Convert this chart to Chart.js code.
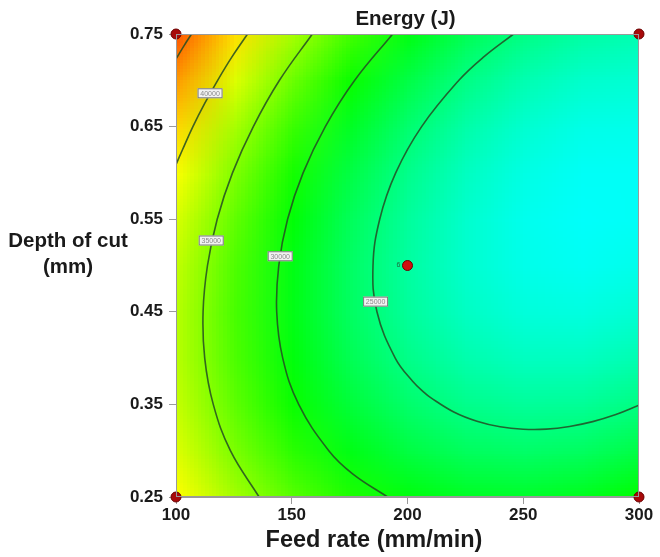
<!DOCTYPE html>
<html>
<head>
<meta charset="utf-8">
<script src="https://cdn.jsdelivr.net/npm/chart.js@4.4.1/dist/chart.umd.min.js"></script>
<style>
  html, body { margin: 0; padding: 0; background: #fff; }
  #wrap { width: 660px; height: 557px; }
</style>
</head>
<body>
<div id="wrap"><canvas id="energyChart"></canvas></div>
<script>
// grid of the response surface
const feedRate = [100, 125, 150, 175, 200, 225, 250, 275, 300];
const depthOfCut = [0.25, 0.30, 0.35, 0.40, 0.45, 0.50, 0.55, 0.60, 0.65, 0.70, 0.75];
// one row per depth, one column per feed rate
const energy = [
  [40050, 36390, 33410, 31130, 29530, 28630, 28410, 28890, 30050],
  [38630, 34790, 31650, 29190, 27430, 26360, 25970, 26280, 27280],
  [37670, 33660, 30350, 27720, 25790, 24550, 24000, 24130, 24960],
  [37160, 32990, 29510, 26710, 24610, 23200, 22480, 22450, 23110],
  [37120, 32780, 29120, 26160, 23890, 22310, 21420, 21220, 21710],
  [37530, 33020, 29200, 26070, 23630, 21880, 20820, 20450, 20770],
  [38410, 33730, 29740, 26440, 23830, 21910, 20680, 20150, 20300],
  [39750, 34900, 30740, 27270, 24490, 22400, 21010, 20300, 20280],
  [41540, 36520, 32200, 28560, 25610, 23350, 21790, 20910, 20730],
  [43800, 38610, 34110, 30310, 27190, 24760, 23030, 21980, 21630],
  [46510, 41160, 36490, 32520, 29230, 26640, 24730, 23520, 22990]
];

// contour lines (feed rate, depth)
const c45000x = [106.7, 103.5, 100];
const c45000y = [0.75, 0.7375, 0.723];
const c40000x = [130.9, 124.1, 118.0, 112.4, 107.3, 102.8, 100];
const c40000y = [0.75, 0.725, 0.70, 0.675, 0.65, 0.625, 0.609];
const c35000x = [158.9, 144.7, 133.4, 124.4, 117.8, 113.6, 111.7, 112.4, 116.1, 123.5, 135.9];
const c35000y = [0.75, 0.70, 0.65, 0.60, 0.55, 0.50, 0.45, 0.40, 0.35, 0.30, 0.25];
const c30000x = [193.6, 177.2, 164.5, 154.9, 148.2, 144.4, 143.5, 146.1, 153.0, 166.0, 176.3, 191.4];
const c30000y = [0.75, 0.70, 0.65, 0.60, 0.55, 0.50, 0.45, 0.40, 0.35, 0.30, 0.275, 0.25];
const c25000x = [245.8, 232.8, 222.2, 206.1, 194.9, 188.0, 185.1, 186.8, 194.7, 202.2, 207.4, 210, 220, 230, 240, 250, 260, 270, 280, 290, 300];
const c25000y = [0.75, 0.725, 0.70, 0.65, 0.60, 0.55, 0.50, 0.45, 0.40, 0.375, 0.3625, 0.3573, 0.3418, 0.3318, 0.3258, 0.3232, 0.3233, 0.3262, 0.3314, 0.3390, 0.3491];

const labelText = ['40000', '35000', '30000', '25000'];
const labelFeed = [114.5, 115.0, 144.8, 186.0];
const labelDepth = [0.686, 0.527, 0.510, 0.461];

// design points
const designFeed = [100, 100, 300, 300, 200];
const designDepth = [0.25, 0.75, 0.25, 0.75, 0.50];
const centerRuns = '6';

const xTicks = [100, 150, 200, 250, 300];
const yTicks = [0.25, 0.35, 0.45, 0.55, 0.65, 0.75];

function pts(xs, ys) {
  return xs.map((v, i) => ({ x: v, y: ys[i] }));
}

// hue goes cyan -> green -> yellow -> red as energy rises
function colourFor(v) {
  let h = 180 - (v - 20000) / 10000 * 60;
  h = Math.max(0, Math.min(240, h));
  const k = n => (n + h / 60) % 6;
  const f = n => 1 - Math.max(0, Math.min(k(n), 4 - k(n), 1));
  return [f(5) * 255, f(3) * 255, f(1) * 255];
}

const heatPlugin = {
  id: 'heat',
  beforeDatasetsDraw(chart) {
    const { ctx, chartArea, scales } = chart;
    const cols = feedRate.length, rows = depthOfCut.length;
    const off = document.createElement('canvas');
    off.width = cols;
    off.height = rows;
    const octx = off.getContext('2d');
    const img = octx.createImageData(cols, rows);
    for (let r = 0; r < rows; r++) {
      for (let c = 0; c < cols; c++) {
        const rgb = colourFor(energy[r][c]);
        const i = ((rows - 1 - r) * cols + c) * 4;
        img.data[i] = rgb[0];
        img.data[i + 1] = rgb[1];
        img.data[i + 2] = rgb[2];
        img.data[i + 3] = 255;
      }
    }
    octx.putImageData(img, 0, 0);
    const x0 = scales.x.getPixelForValue(feedRate[0]);
    const cw = scales.x.getPixelForValue(feedRate[1]) - x0;
    const yTop = scales.y.getPixelForValue(depthOfCut[rows - 1]);
    const ch = scales.y.getPixelForValue(depthOfCut[rows - 2]) - yTop;
    ctx.save();
    ctx.beginPath();
    ctx.rect(chartArea.left, chartArea.top, chartArea.right - chartArea.left, chartArea.bottom - chartArea.top);
    ctx.clip();
    ctx.imageSmoothingEnabled = true;
    ctx.drawImage(off, x0 - cw / 2, yTop - ch / 2, cw * cols, ch * rows);
    ctx.restore();
  },
  afterDatasetsDraw(chart) {
    const { ctx, chartArea, scales } = chart;
    // frame
    ctx.save();
    ctx.strokeStyle = '#9a9a9a';
    ctx.lineWidth = 1;
    ctx.strokeRect(chartArea.left + 0.5, chartArea.top + 0.5, chartArea.right - chartArea.left - 1, chartArea.bottom - chartArea.top - 1);
    // contour labels
    ctx.font = '7px "Liberation Sans", Arial, sans-serif';
    ctx.textAlign = 'center';
    ctx.textBaseline = 'middle';
    labelText.forEach((t, i) => {
      const px = scales.x.getPixelForValue(labelFeed[i]);
      const py = scales.y.getPixelForValue(labelDepth[i]);
      ctx.fillStyle = '#f2f2f2';
      ctx.fillRect(px - 12, py - 5, 25, 10);
      ctx.strokeStyle = '#7a7a7a';
      ctx.strokeRect(px - 12 + 0.5, py - 5 + 0.5, 24, 9);
      ctx.fillStyle = '#8a8a8a';
      ctx.fillText(t, px + 0.5, py + 0.5);
    });
    // number of centre runs
    ctx.fillStyle = '#1e6b3c';
    ctx.font = '7px "Liberation Sans", Arial, sans-serif';
    ctx.fillText(centerRuns, scales.x.getPixelForValue(designFeed[4]) - 9, scales.y.getPixelForValue(designDepth[4]));
    ctx.restore();
  },
  afterDraw(chart) {
    const { ctx, chartArea } = chart;
    ctx.save();
    ctx.fillStyle = '#1a1a1a';
    ctx.textAlign = 'center';
    ctx.textBaseline = 'middle';
    ctx.font = 'bold 20.5px "Liberation Sans", Arial, sans-serif';
    ctx.fillText('Energy (J)', (chartArea.left + chartArea.right) / 2 - 2, 19);
    ctx.fillText('Depth of cut', 68, 241);
    ctx.fillText('(mm)', 68, 267);
    ctx.font = 'bold 23.5px "Liberation Sans", Arial, sans-serif';
    ctx.fillText('Feed rate (mm/min)', 374, 541);
    ctx.restore();
  }
};

const contourStyle = {
  showLine: true,
  pointRadius: 0,
  borderColor: 'rgba(35, 75, 35, 0.85)',
  borderWidth: 1.6,
  tension: 0.4,
  fill: false
};

new Chart(document.getElementById('energyChart'), {
  type: 'scatter',
  data: {
    datasets: [
      {
        data: pts(designFeed, designDepth),
        pointRadius: 5,
        pointBackgroundColor: ['#a80a0a', '#a80a0a', '#a80a0a', '#a80a0a', '#d01010'],
        pointBorderColor: '#6a0000',
        pointBorderWidth: 1,
        clip: false
      },
      Object.assign({ data: pts(c45000x, c45000y) }, contourStyle),
      Object.assign({ data: pts(c40000x, c40000y) }, contourStyle),
      Object.assign({ data: pts(c35000x, c35000y) }, contourStyle),
      Object.assign({ data: pts(c30000x, c30000y) }, contourStyle),
      Object.assign({ data: pts(c25000x, c25000y) }, contourStyle)
    ]
  },
  options: {
    responsive: true,
    maintainAspectRatio: false,
    animation: false,
    layout: { padding: { left: 0, right: 21, top: 34, bottom: 0 } },
    plugins: {
      legend: { display: false },
      tooltip: { enabled: false }
    },
    scales: {
      x: {
        type: 'linear',
        min: 100,
        max: 300,
        afterBuildTicks: s => { s.ticks = xTicks.map(v => ({ value: v })); },
        afterFit: s => { s.height = 60; },
        ticks: {
          color: '#1a1a1a',
          font: { family: '"Liberation Sans", Arial, sans-serif', size: 17, weight: 'bold' },
          padding: 1
        },
        grid: { drawOnChartArea: false, color: '#9a9a9a', tickLength: 7 },
        border: { color: '#9a9a9a' }
      },
      y: {
        type: 'linear',
        min: 0.25,
        max: 0.75,
        afterBuildTicks: s => { s.ticks = yTicks.map(v => ({ value: v })); },
        afterFit: s => { s.width = 176; },
        ticks: {
          color: '#1a1a1a',
          font: { family: '"Liberation Sans", Arial, sans-serif', size: 17, weight: 'bold' },
          padding: 6,
          callback: v => v.toFixed(2)
        },
        grid: { drawOnChartArea: false, color: '#9a9a9a', tickLength: 7 },
        border: { color: '#9a9a9a' }
      }
    }
  },
  plugins: [heatPlugin]
});
</script>
</body>
</html>
